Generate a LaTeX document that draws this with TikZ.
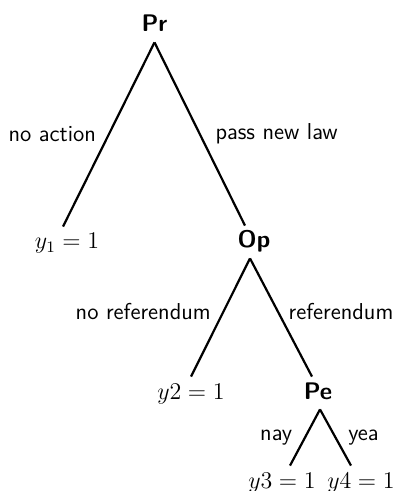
\documentclass[tikz,border=0pt]{standalone}
\begin{document}
\begin{tikzpicture}[x=0.5pt, y=-0.5pt,
        every node/.style={font=\fontsize{12}{14}\selectfont},
        player/.style={font=\fontsize{12}{14}\selectfont\sffamily\bfseries, anchor=base,
            text height=8pt, text depth=2pt, inner ysep=3pt},
        payoff/.style={anchor=base, text height=8pt, text depth=2pt, inner ysep=3pt},
        move/.style={font=\fontsize{11.5}{13}\selectfont\sffamily},
        branch/.style={line width=1.1pt}]
        \useasboundingbox (0,0) rectangle (396,491);

        % Players
        \node[player] (pr) at (154.5,32) {Pr};
        \node[player] (op) at (254,248) {Op};
        \node[player] (pe) at (318,399) {Pe};

        % Outcomes
        \node[payoff] (yone) at (67,249) {$y_1 = 1$};
        \node[payoff] (ytwo) at (191,399) {$y2 = 1$};
        \node[payoff] (ythree) at (282,488) {$y3 = 1$};
        \node[payoff] (yfour) at (361,488) {$y4 = 1$};

        % President
        \draw[branch] (pr.south) -- node[move, left=2.5pt] {no action} ([xshift=-2pt]yone.north);
        \draw[branch] (pr.south) -- node[move, right=4pt] {pass new law} ([xshift=-4.5pt]op.north);

        % Opposition
        \draw[branch] ([xshift=-2pt]op.south) -- node[move, left=2.5pt, pos=0.45] {no referendum} (ytwo.north);
        \draw[branch] ([xshift=-2pt]op.south) -- node[move, right=1.5pt, pos=0.45] {referendum} ([xshift=-3pt]pe.north);

        % People
        \draw[branch] ([xshift=1pt]pe.south) -- node[move, left=2.5pt] {nay} ([xshift=4pt]ythree.north);
        \draw[branch] ([xshift=1pt]pe.south) -- node[move, right=2.5pt] {yea} ([xshift=-5pt]yfour.north);
    \end{tikzpicture}
\end{document}
